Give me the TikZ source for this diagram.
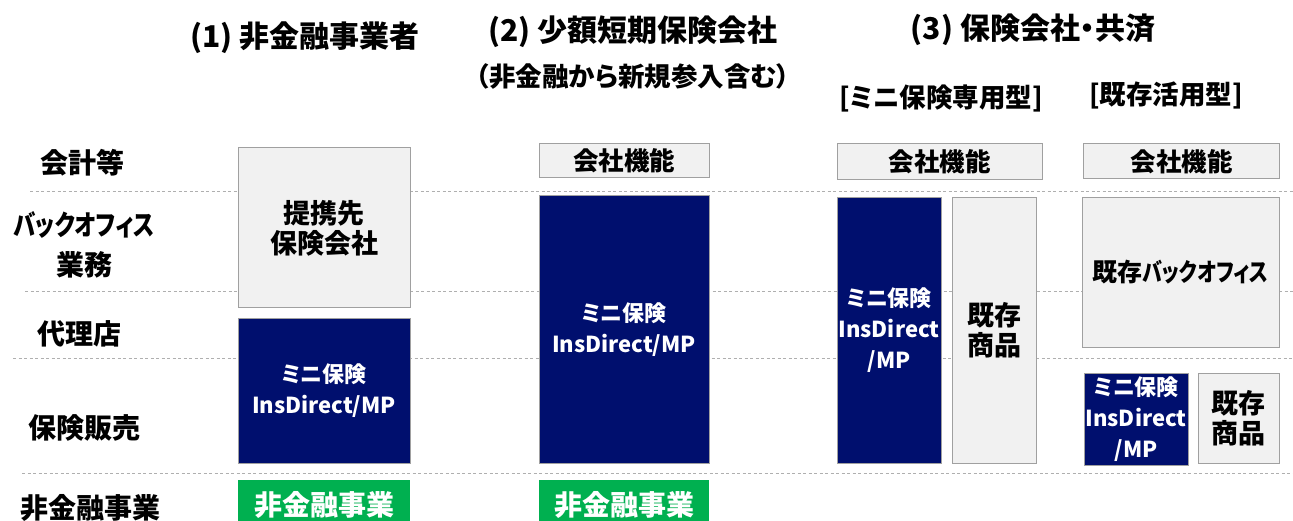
\documentclass[tikz,border=0pt]{standalone}
\usepackage{fontspec}
\setmainfont{Noto Sans CJK JP}[RawFeature=+palt]
\definecolor{insNavy}{RGB}{0,15,110}
\definecolor{bizGreen}{RGB}{0,176,80}
\definecolor{boxGray}{RGB}{241,241,241}
\definecolor{edgeGray}{RGB}{160,160,160}
\definecolor{sepGray}{RGB}{175,175,175}
\usetikzlibrary{positioning}
\newcommand{\narrowkana}[1]{\scalebox{0.8}[1]{#1}}

\begin{document}
\begin{tikzpicture}[x=1pt, y=-1pt,
    graybox/.style={rectangle, draw=edgeGray, line width=1pt, fill=boxGray, align=center, inner sep=0pt, font=\fontsize{27}{30}\selectfont\bfseries},
    navybox/.style={rectangle, draw=edgeGray, line width=1pt, fill=insNavy, text=white, align=center, inner sep=0pt, font=\fontsize{22}{31}\selectfont\bfseries},
    greenbox/.style={rectangle, fill=bizGreen, text=white, inner sep=0pt, font=\fontsize{28}{30}\selectfont\bfseries},
    rowlabel/.style={align=center, font=\fontsize{28}{40}\selectfont\bfseries},
    headline/.style={align=center, font=\fontsize{30}{34}\selectfont\bfseries},
    subline/.style={align=center, font=\fontsize{26.5}{30}\selectfont\bfseries},
    sepline/.style={sepGray, line width=0.9pt, dash pattern=on 3pt off 2.5pt}]
    \useasboundingbox (0,0) rectangle (1293,521);

    % separators between the rows
    \draw[sepline] (30,191) -- (1293,191);
    \draw[sepline] (25,291) -- (1293,291);
    \draw[sepline] (13,358) -- (1293,358);
    \draw[sepline] (22,473) -- (1293,473);

    % column heads
    \node[headline] (hdrOne) at (305,38) {(1) 非金融事業者};
    \node[headline] (hdrTwo) at (633,32) {(2) 少額短期保険会社};
    \node[subline] (hdrTwoSub) at (633,76) {（非金融から新規参入含む）};
    \node[headline] (hdrThree) at (1033,30) {(3) 保険会社・共済};
    \node[subline] (subDedicated) at (941,98) {[ミニ保険専用型]};
    \node[subline] (subExisting) at (1166,95) {[既存活用型]};

    % row labels
    \node[rowlabel] (rowAcct) at (82,163) {会計等};
    \node[rowlabel] (rowBack) at (84,245) {\narrowkana{バックオフィス}\\業務};
    \node[rowlabel] (rowAgent) at (79,334) {代理店};
    \node[rowlabel] (rowSales) at (84,428) {保険販売};
    \node[rowlabel] (rowNonfin) at (90,508) {非金融事業};

    % (1)
    \node[graybox, minimum width=172, minimum height=160] (onePartner) at (324,228) {提携先\\保険会社};
    \node[navybox, minimum width=172, minimum height=144] (oneMini) at (324,391) {ミニ保険\\InsDirect/MP};
    \node[greenbox, minimum width=172, minimum height=50] (oneBiz) at (324,505) {非金融事業};

    % (2)
    \node[graybox, minimum width=170, minimum height=34, font=\fontsize{25.5}{30}\selectfont\bfseries] (twoCorp) at (624,161) {会社機能};
    \node[navybox, minimum width=170, minimum height=267] (twoMini) at (624,329.5) {ミニ保険\\InsDirect/MP};
    \node[greenbox, minimum width=170, minimum height=50] (twoBiz) at (624,505) {非金融事業};

    % (3) dedicated
    \node[graybox, minimum width=205, minimum height=36, font=\fontsize{25.5}{30}\selectfont\bfseries] (dedCorp) at (939.5,162) {会社機能};
    \node[navybox, minimum width=104, minimum height=265] (dedMini) at (889,330.5) {ミニ保険\\InsDirect\\/MP};
    \node[graybox, minimum width=84, minimum height=265] (dedProd) at (994,330.5) {既存\\商品};

    % (3) existing
    \node[graybox, minimum width=196, minimum height=35, font=\fontsize{25.5}{30}\selectfont\bfseries] (exCorp) at (1181.5,161.5) {会社機能};
    \node[graybox, minimum width=197, minimum height=149, font=\fontsize{25}{30}\selectfont\bfseries] (exBack) at (1180.5,272.5) {既存\narrowkana{バックオフィス}};
    \node[navybox, minimum width=104, minimum height=92] (exMini) at (1136,419) {ミニ保険\\InsDirect\\/MP};
    \node[graybox, minimum width=81, minimum height=90] (exProd) at (1238.5,418) {既存\\商品};
\end{tikzpicture}
\end{document}
